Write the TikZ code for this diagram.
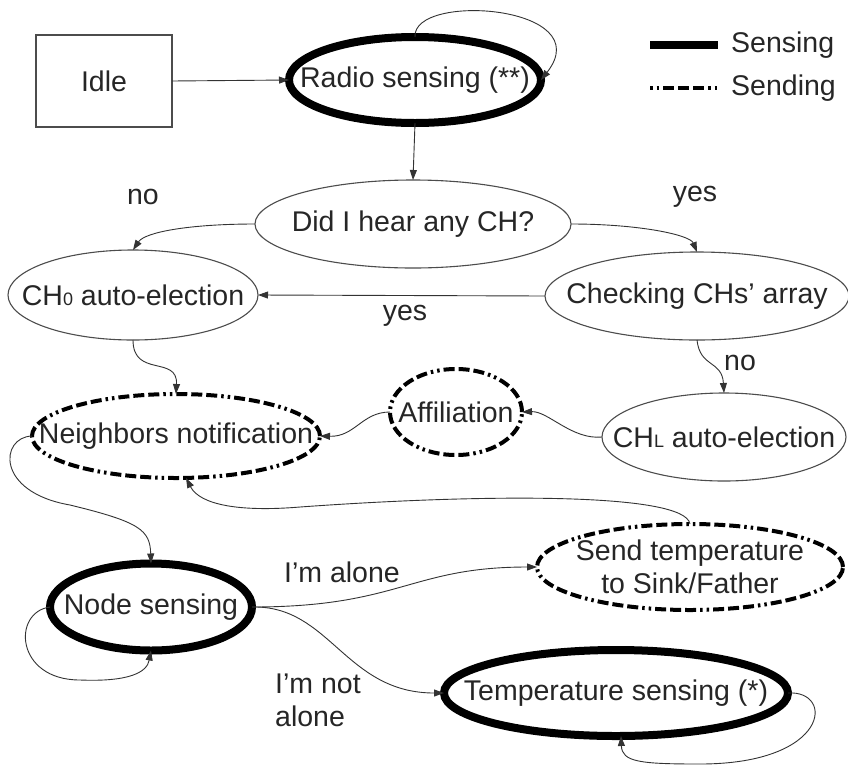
\documentclass[tikz,border=0pt]{standalone}
\usepackage{fontspec}
\setmainfont{Liberation Sans}
\usetikzlibrary{shapes.geometric,arrows.meta}
\tikzset{
  base/.style={inner sep=0pt, outer sep=0pt},
  lbl/.style={font=\fontsize{28.5}{33}\selectfont, inner sep=0pt, align=center, text=black!85},
  thinell/.style={base, ellipse, draw=black!70, line width=1.1pt},
  sensell/.style={base, ellipse, draw=black, line width=8pt},
  sendpat/.style={dash pattern=on 11pt off 4pt on 11pt off 4pt on 11pt off 4pt on 2.5pt off 4pt on 2.5pt off 4pt},
  sendell/.style={base, ellipse, draw=black, line width=4pt, sendpat},
  conn/.style={draw=black!80, line width=0.9pt, -{Triangle[length=10pt,width=7pt]}},
}
\newcommand{\smallsub}[1]{{\fontsize{18}{20}\selectfont #1}}
\begin{document}
\begin{tikzpicture}[x=1pt,y=-1pt]
\useasboundingbox[fill=white] (0,0) rectangle (848,766);
% nodes
\node[base, rectangle, draw=black!70, line width=1.1pt, minimum width=136pt, minimum height=92pt, label={[lbl]center:Idle}] (I) at (104,81) {};
\node[sensell, minimum width=252pt, minimum height=86pt, label={[lbl]center:Radio sensing (**)}] (R) at (415,80) {};
\node[thinell, minimum width=316pt, minimum height=88pt, label={[lbl]center:Did I hear any CH?}] (D) at (413,224) {};
\node[thinell, minimum width=250pt, minimum height=90pt, label={[lbl]center:CH\smallsub{0} auto-election}] (C0) at (133,295) {};
\node[thinell, minimum width=304pt, minimum height=88pt, label={[lbl]center:Checking CHs' array}] (K) at (697,296) {};
\node[thinell, minimum width=244pt, minimum height=88pt, label={[lbl]center:CH\smallsub{L} auto-election}] (L) at (724,437) {};
\node[sendell, minimum width=132pt, minimum height=86pt, label={[lbl]center:Affiliation}] (A) at (456,412) {};
\node[sendell, minimum width=288pt, minimum height=84pt, label={[lbl]center:Neighbors notification}] (N) at (176,436) {};
\node[sensell, minimum width=202pt, minimum height=87pt, label={[lbl]center:Node sensing}] (NS) at (151,607) {};
\node[sendell, minimum width=306pt, minimum height=86pt, label={[lbl]center:{Send temperature\\to Sink/Father}}] (S) at (690,567) {};
\node[sensell, minimum width=344pt, minimum height=86pt, label={[lbl]center:Temperature sensing (*)}] (T) at (616,693) {};
% legend
\coordinate (la1) at (650,45); \coordinate (la2) at (718,45);
\coordinate (lb1) at (650,88); \coordinate (lb2) at (718,88);
\draw[line width=8pt] (la1) -- (la2);
\draw[line width=4pt, dash pattern=on 2.5pt off 4pt on 2.5pt off 4pt on 11pt off 4pt on 11pt off 4pt on 11pt off 4pt] (lb1) -- (lb2);
\node[lbl, anchor=west] (ls) at (731,45) {Sensing};
\node[lbl, anchor=west] (ld) at (731,88) {Sending};
% connectors
\draw[conn] (I.east) -- (R.west);
\draw[conn] (R.north) .. controls (412,-8) and (600,5) .. (R.east);
\draw[conn] (R.south) -- (D.north);
\draw[conn] (D.west) .. controls (190,224) and (145,232) .. (C0.north);
\draw[conn] (D.east) .. controls (640,224) and (690,235) .. (K.north);
\draw[conn] (K.west) -- (C0.east);
\draw[conn] (C0.south) .. controls (133,378) and (178,355) .. (N.north);
\draw[conn] (K.south) .. controls (700,368) and (722,360) .. (L.north);
\draw[conn] (L.west) .. controls (572,440) and (548,411) .. (A.east);
\draw[conn] (A.west) .. controls (362,412) and (355,437) .. (N.east);
\coordinate (sm) at (300,507);
\draw[conn] (S.north) .. controls (685,492) and (480,494) .. (sm) .. controls (240,512) and (200,505) .. ([xshift=10pt]N.south);
\coordinate (nm) at (70,505);
\draw[conn] (N.west) .. controls (0,437) and (-5,492) .. (nm) .. controls (140,522) and (150,530) .. (NS.north);
\coordinate (nl) at (80,680);
\draw[conn] (NS.west) .. controls (12,612) and (15,680) .. (nl) .. controls (130,682) and (147,672) .. (NS.south);
\draw[conn] (NS.east) .. controls (400,607) and (410,567) .. (S.west);
\draw[conn] (NS.east) .. controls (330,605) and (345,693) .. (T.west);
\coordinate (tl) at (700,764);
\draw[conn] (T.east) .. controls (835,690) and (830,764) .. (tl) .. controls (640,764) and (622,762) .. ([xshift=5pt]T.south);
% labels
\node[lbl] (l1) at (143,197) {no};
\node[lbl] (l2) at (695,197) {yes};
\node[lbl] (l3) at (405,316) {yes};
\node[lbl] (l4) at (740,363) {no};
\node[lbl] (l5) at (342,572) {I'm alone};
\node[lbl, anchor=west, align=left] (l6) at (275,700) {I'm not\\alone};
\end{tikzpicture}
\end{document}
